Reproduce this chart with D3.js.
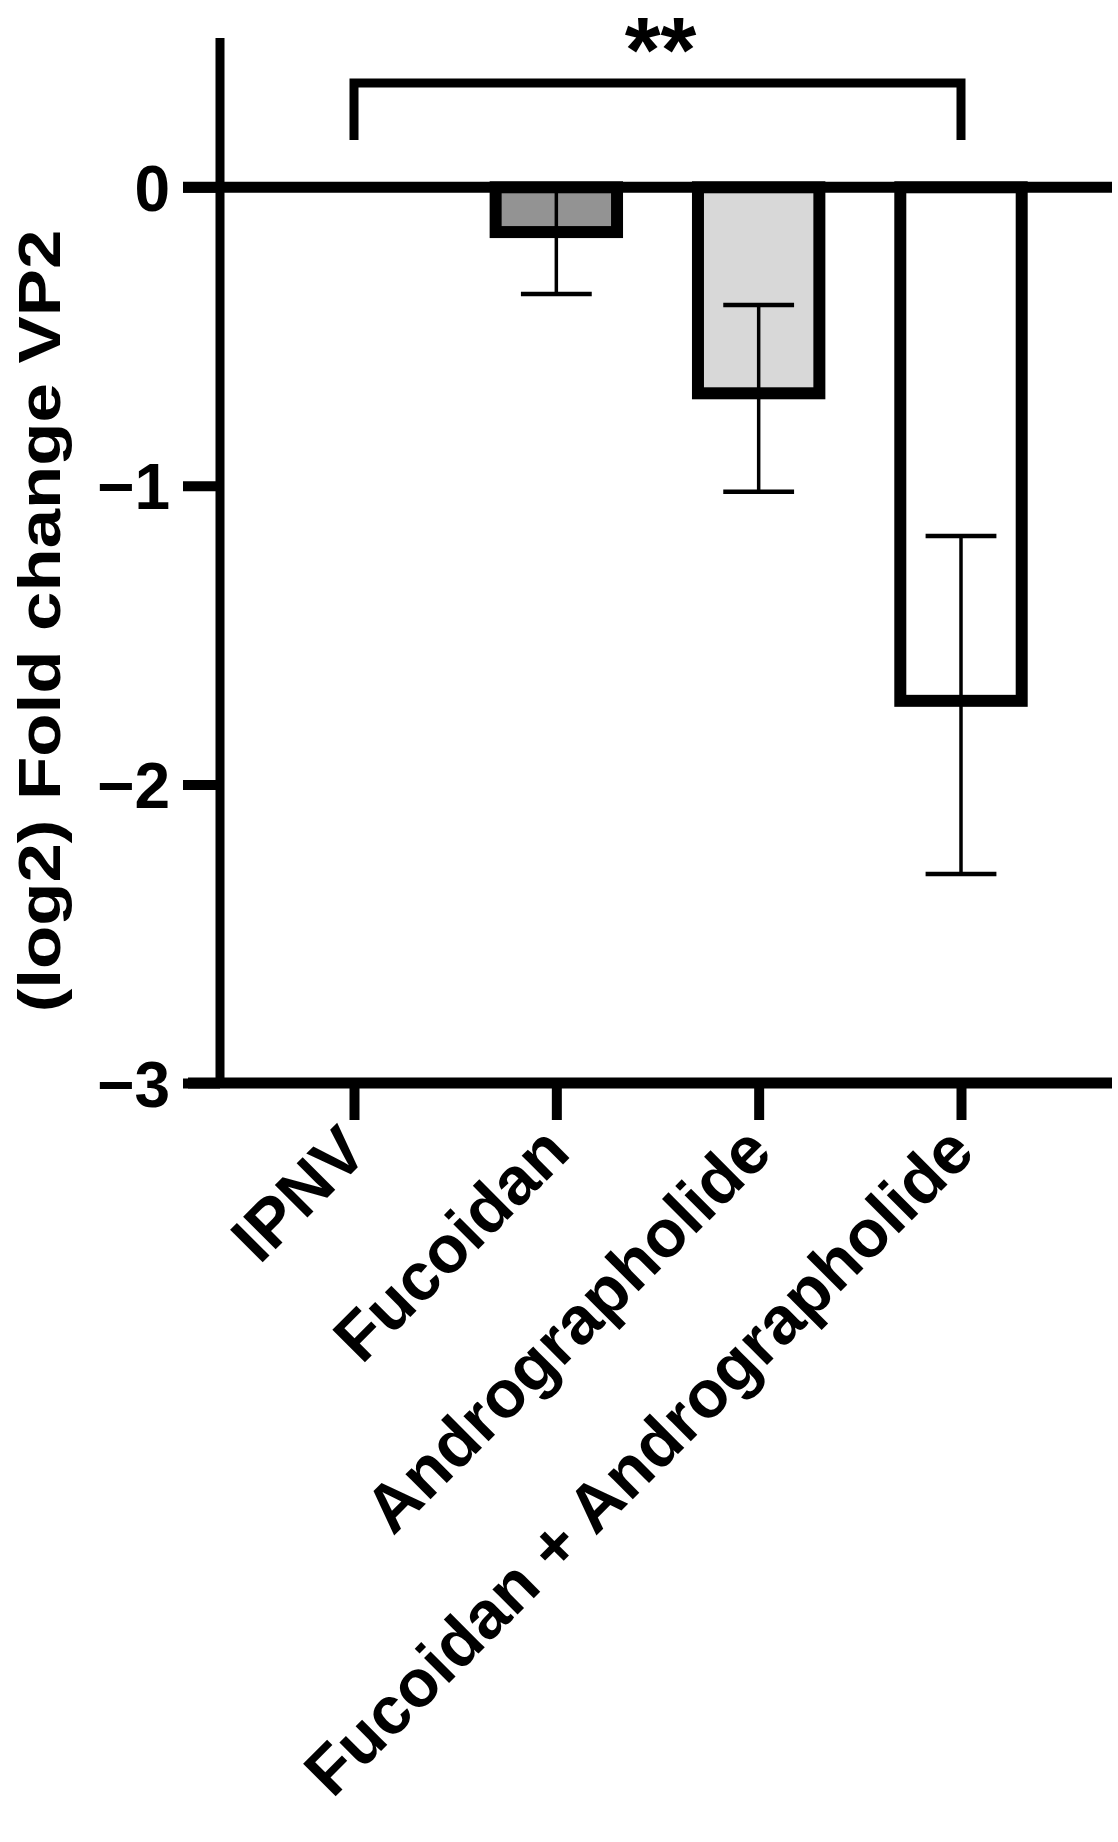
<!DOCTYPE html>
<html><head><meta charset="utf-8">
<script src="https://cdn.jsdelivr.net/npm/d3@7"></script>
<style>html,body{margin:0;padding:0;background:#fff}</style>
</head><body>
<svg id="chart" width="1118" height="1842"></svg>
<script>
// ---- data ----
const categories = ["IPNV", "Fucoidan", "Andrographolide", "Fucoidan + Andrographolide"];
const meanValues = [0, -0.15, -0.69, -1.72];
const errLower = [0, -0.357, -1.02, -2.30];
const errUpper = [0, 0.0, -0.394, -1.168];
const barFills = ["#ffffff", "#939393", "#d8d8d8", "#ffffff"];
const yTickValues = [0, -1, -2, -3];
const yTickLabels = ["0", "\u22121", "\u22122", "\u22123"];
const yAxisTitle = "(log2) Fold change VP2";
const sigFrom = "IPNV", sigTo = "Fucoidan + Andrographolide", sigLabel = "**";

const FONT = "'Liberation Sans', Arial, Helvetica, sans-serif";
const svg = d3.select("#chart");

const y = d3.scaleLinear().domain([-3, 0.5]).range([1083, 38]);
const x = d3.scalePoint().domain(categories).range([354, 961]);
const axisX = 220, rightEnd = 1112;
const barW = x.step() * 0.6;
const capW = x.step() * 0.35;

const rows = categories.map((c, i) => ({c, v: meanValues[i], lo: errLower[i], hi: errUpper[i], fill: barFills[i]}));

// bars
svg.append("g").selectAll("rect").data(rows.filter(d => d.v !== 0)).join("rect")
  .attr("x", d => x(d.c) - barW / 2)
  .attr("width", barW)
  .attr("y", d => y(0))
  .attr("height", d => y(d.v) - y(0))
  .attr("fill", d => d.fill)
  .attr("stroke", "#000")
  .attr("stroke-width", 12);

// error bars
const eb = svg.append("g").attr("stroke", "#000");
const ebRows = rows.filter(d => d.lo !== d.hi);
eb.selectAll("line.v").data(ebRows).join("line").attr("class", "v")
  .attr("x1", d => x(d.c)).attr("x2", d => x(d.c))
  .attr("y1", d => y(d.hi)).attr("y2", d => y(d.lo))
  .attr("stroke-width", 3.5);
eb.selectAll("line.lo").data(ebRows).join("line").attr("class", "lo")
  .attr("x1", d => x(d.c) - capW / 2).attr("x2", d => x(d.c) + capW / 2)
  .attr("y1", d => y(d.lo)).attr("y2", d => y(d.lo))
  .attr("stroke-width", 4.5);
eb.selectAll("line.hi").data(ebRows).join("line").attr("class", "hi")
  .attr("x1", d => x(d.c) - capW / 2).attr("x2", d => x(d.c) + capW / 2)
  .attr("y1", d => y(d.hi)).attr("y2", d => y(d.hi))
  .attr("stroke-width", 4.5);

// zero line
svg.append("line")
  .attr("x1", axisX - 37).attr("x2", rightEnd)
  .attr("y1", y(0)).attr("y2", y(0))
  .attr("stroke", "#000").attr("stroke-width", 11);

// y axis
const yAxis = svg.append("g").attr("transform", `translate(${axisX},0)`)
  .call(d3.axisLeft(y).tickValues(yTickValues)
    .tickFormat((d, i) => yTickLabels[i]).tickSize(37).tickSizeOuter(0).tickPadding(13));
yAxis.select(".domain").attr("stroke", "#000").attr("stroke-width", 9)
  .attr("d", `M0,${y(0.5)}V${y(-3) + 5}`);
yAxis.selectAll(".tick line").attr("stroke", "#000").attr("stroke-width", 10);
yAxis.selectAll(".tick text").attr("font-family", FONT).attr("font-weight", "bold")
  .attr("font-size", 64).attr("fill", "#000").attr("dy", "0.36em");

// bottom x axis
svg.append("line")
  .attr("x1", axisX - 32).attr("x2", rightEnd)
  .attr("y1", y(-3)).attr("y2", y(-3))
  .attr("stroke", "#000").attr("stroke-width", 11);
const xAxis = svg.append("g").attr("transform", `translate(0,${y(-3)})`)
  .call(d3.axisBottom(x).tickSize(37).tickSizeOuter(0).tickFormat(""));
xAxis.select(".domain").remove();
xAxis.selectAll(".tick line").attr("stroke", "#000").attr("stroke-width", 10);

// x labels rotated
svg.append("g").selectAll("text").data(categories).join("text")
  .attr("transform", d => `translate(${x(d) + 16},${y(-3) + 72}) rotate(-45)`)
  .attr("text-anchor", "end")
  .attr("font-family", FONT).attr("font-weight", "bold").attr("font-size", 67)
  .attr("fill", "#000")
  .text(d => d);

// y title
svg.append("text")
  .attr("transform", `translate(60,621) rotate(-90) scale(1.18,1)`)
  .attr("text-anchor", "middle")
  .attr("font-family", FONT).attr("font-weight", "bold").attr("font-size", 60)
  .attr("fill", "#000")
  .text(yAxisTitle);

// significance bracket
const bx0 = x(sigFrom), bx1 = x(sigTo);
svg.append("path")
  .attr("d", `M${bx0},140V83H${bx1}V140`)
  .attr("fill", "none").attr("stroke", "#000").attr("stroke-width", 9);
svg.append("text")
  .attr("x", (bx0 + bx1) / 2 + 3).attr("y", 82)
  .attr("text-anchor", "middle")
  .attr("font-family", FONT).attr("font-weight", "bold").attr("font-size", 92)
  .attr("fill", "#000")
  .text(sigLabel);
</script>
</body></html>
